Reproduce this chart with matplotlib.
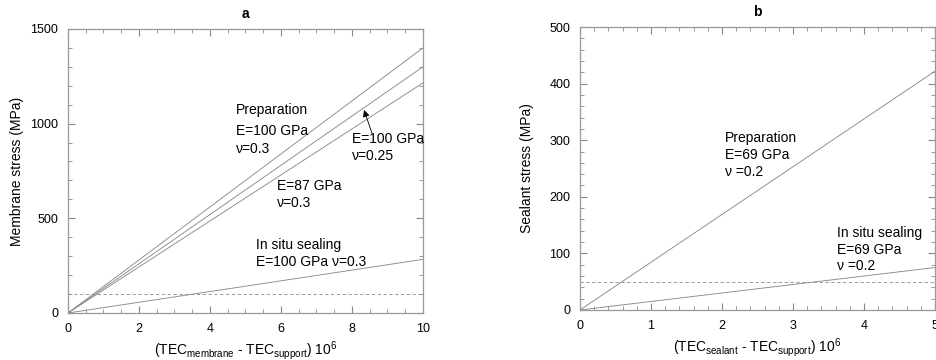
import matplotlib.pyplot as plt
from matplotlib.ticker import MultipleLocator

plt.rcParams['font.family'] = ['Liberation Sans', 'DejaVu Sans']
plt.rcParams['mathtext.fontset'] = 'custom'
plt.rcParams['mathtext.rm'] = 'Liberation Sans'
plt.rcParams['mathtext.it'] = 'Liberation Sans'

# panel a: membrane stress vs TEC mismatch
tec_a = [0, 10]
prep_100_03 = [0, 1400]
prep_100_025 = [0, 1300]
prep_87_03 = [0, 1215]
situ_100_03 = [0, 283]
limit_a = 100

# panel b: sealant stress vs TEC mismatch
tec_b = [0, 5]
prep_69_02 = [0, 422]
situ_69_02 = [0, 75]
limit_b = 50

line_kw = dict(color='#8a8a8a', lw=0.65)
dash_kw = dict(color='#8a8a8a', lw=0.6, ls=(0, (4, 3)))


def style_axes(ax, xmaj, xmin, ymaj, ymin):
    ax.xaxis.set_major_locator(MultipleLocator(xmaj))
    ax.xaxis.set_minor_locator(MultipleLocator(xmin))
    ax.yaxis.set_major_locator(MultipleLocator(ymaj))
    ax.yaxis.set_minor_locator(MultipleLocator(ymin))
    ax.tick_params(which='both', direction='in', top=True, right=True,
                   color='#888888', labelsize=9, pad=7)
    ax.tick_params(which='major', length=5)
    ax.tick_params(which='minor', length=3)
    for s in ax.spines.values():
        s.set_color('#999999')
        s.set_linewidth(0.9)


fig = plt.figure(figsize=(9.36, 3.6), dpi=100)
ax1 = fig.add_axes([0.0726, 0.1306, 0.3793, 0.789])
ax2 = fig.add_axes([0.6197, 0.139, 0.3793, 0.786])

ax1.plot(tec_a, prep_100_03, **line_kw)
ax1.plot(tec_a, prep_100_025, **line_kw)
ax1.plot(tec_a, prep_87_03, **line_kw)
ax1.plot(tec_a, situ_100_03, **line_kw)
ax1.axhline(limit_a, **dash_kw)
ax1.set_xlim(0, 10)
ax1.set_ylim(0, 1500)
style_axes(ax1, 2, 0.5, 500, 100)
ax1.set_title('a', fontweight='bold', fontsize=10, pad=8)
ax1.set_ylabel('Membrane stress (MPa)', fontsize=10)
ax1.yaxis.set_label_coords(-0.125, 0.5)
ax1.set_xlabel(r'(TEC$_{\mathrm{membrane}}$ - TEC$_{\mathrm{support}}$) 10$^{6}$',
               fontsize=10, labelpad=3)

fs = 10
ax1.text(4.73, 1072, 'Preparation', fontsize=fs, va='center')
ax1.text(4.73, 961, 'E=100 GPa', fontsize=fs, va='center')
ax1.text(4.73, 866, 'ν=0.3', fontsize=fs, va='center')
ax1.text(8.0, 919, 'E=100 GPa', fontsize=fs, va='center')
ax1.text(8.0, 829, 'ν=0.25', fontsize=fs, va='center')
ax1.text(5.89, 671, 'E=87 GPa', fontsize=fs, va='center')
ax1.text(5.89, 581, 'ν=0.3', fontsize=fs, va='center')
ax1.text(5.3, 359, 'In situ sealing', fontsize=fs, va='center')
ax1.text(5.3, 269, 'E=100 GPa ν=0.3', fontsize=fs, va='center')
ax1.annotate('', xy=(8.34, 1072), xytext=(8.56, 951),
             arrowprops=dict(arrowstyle='-|>', color='black', lw=0.6,
                             mutation_scale=10, shrinkA=0, shrinkB=0))

ax2.plot(tec_b, prep_69_02, **line_kw)
ax2.plot(tec_b, situ_69_02, **line_kw)
ax2.axhline(limit_b, **dash_kw)
ax2.set_xlim(0, 5)
ax2.set_ylim(0, 500)
style_axes(ax2, 1, 0.2, 100, 20)
ax2.set_title('b', fontweight='bold', fontsize=10, pad=8)
ax2.set_ylabel('Sealant stress (MPa)', fontsize=10)
ax2.yaxis.set_label_coords(-0.13, 0.5)
ax2.set_xlabel(r'(TEC$_{\mathrm{sealant}}$ - TEC$_{\mathrm{support}}$) 10$^{6}$',
               fontsize=10, labelpad=3)

ax2.text(2.04, 303, 'Preparation', fontsize=fs, va='center')
ax2.text(2.04, 273, 'E=69 GPa', fontsize=fs, va='center')
ax2.text(2.04, 244, 'ν =0.2', fontsize=fs, va='center')
ax2.text(3.62, 136, 'In situ sealing', fontsize=fs, va='center')
ax2.text(3.62, 106, 'E=69 GPa', fontsize=fs, va='center')
ax2.text(3.62, 78, 'ν =0.2', fontsize=fs, va='center')

fig.savefig('out.png', dpi=100)
